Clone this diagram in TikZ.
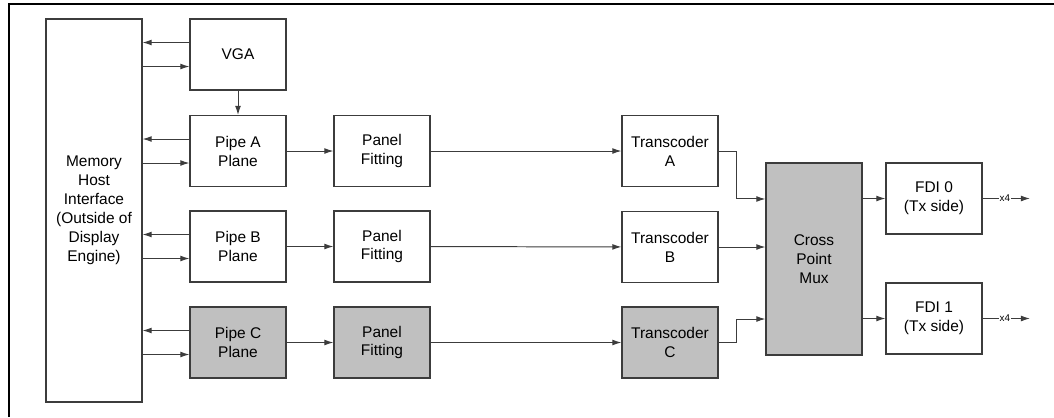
\documentclass[tikz,border=0pt]{standalone}
\usepackage{fontspec}
\setmainfont{Liberation Sans}
\usepackage{tikz}
\usetikzlibrary{arrows.meta}
\definecolor{linegray}{HTML}{3C3C3C}
\definecolor{boxgray}{HTML}{C0C0C0}

\begin{document}
\begin{tikzpicture}[
    x=0.025cm, y=-0.025cm,
    every node/.style={
        font=\fontsize{11}{13.5}\selectfont,
        align=center
    },
    blk/.style={draw=linegray, line width=0.8pt, fill=white,
        minimum width=2.4cm, minimum height=1.775cm, inner sep=1pt},
    shaded/.style={blk, fill=boxgray},
    arr/.style={-{Latex[length=6.5pt,width=4.2pt]}, draw=linegray, line width=0.7pt}
]
\useasboundingbox (0,0) rectangle (1054,417);
\draw[line width=2pt] (9,417) -- (9,4) -- (1054,4);

% left side
\node[blk, minimum height=9.575cm] (mem) at (94,210.5)
    {Memory\\Host\\Interface\\(Outside of\\Display\\Engine)};
\node[blk] (vga) at (238,54.5) {VGA};
\node[blk] (pipeA) at (238,151) {Pipe A\\Plane};
\node[blk] (pipeB) at (238,246.5) {Pipe B\\Plane};
\node[shaded] (pipeC) at (238,342.5) {Pipe C\\Plane};

\node[blk] (fitA) at (382,151) {Panel\\Fitting};
\node[blk] (fitB) at (382,246.5) {Panel\\Fitting};
\node[shaded] (fitC) at (382,342.5) {Panel\\Fitting};

\node[blk] (tcA) at (670,151) {Transcoder\\A};
\node[blk] (tcB) at (670,247) {Transcoder\\B};
\node[shaded] (tcC) at (670,342.5) {Transcoder\\C};

\node[shaded, minimum height=4.8cm] (mux) at (814,259) {Cross\\Point\\Mux};

\node[blk] (fdi0) at (934,198.5) {FDI 0\\(Tx side)};
\node[blk] (fdi1) at (934,318.5) {FDI 1\\(Tx side)};

\coordinate (out0) at (1030,198.5);
\coordinate (out1) at (1030,318.5);

% memory traffic
\foreach \n in {vga,pipeA,pipeB,pipeC}{
    \coordinate (rd) at ([yshift=3mm]\n.west);
    \coordinate (wr) at ([yshift=-3mm]\n.west);
    \draw[arr] (rd) -- (mem.east |- rd);
    \draw[arr] (mem.east |- wr) -- (wr);
}
\draw[arr] (vga) -- (pipeA);

\foreach \p/\f/\t in {pipeA/fitA/tcA, pipeB/fitB/tcB, pipeC/fitC/tcC}{
    \draw[arr] (\p) -- (\f);
    \draw[arr] (\f) -- (\t);
}

\draw[arr] (tcA.east) -- ++(0.45cm,0) |- ([yshift=1.5cm]mux.west);
\draw[arr] (tcB.east) -- (mux.west |- tcB.east);
\draw[arr] (tcC.east) -- ++(0.45cm,0) |- ([yshift=-1.5cm]mux.west);

\draw[arr] (mux.east |- fdi0.west) -- (fdi0.west);
\draw[arr] (mux.east |- fdi1.west) -- (fdi1.west);

\draw[arr] (fdi0.east) -- (out0)
    node[pos=0.47, fill=white, inner sep=0.6pt, font=\fontsize{7}{8}\selectfont] {x4};
\draw[arr] (fdi1.east) -- (out1)
    node[pos=0.47, fill=white, inner sep=0.6pt, font=\fontsize{7}{8}\selectfont] {x4};
\end{tikzpicture}
\end{document}
